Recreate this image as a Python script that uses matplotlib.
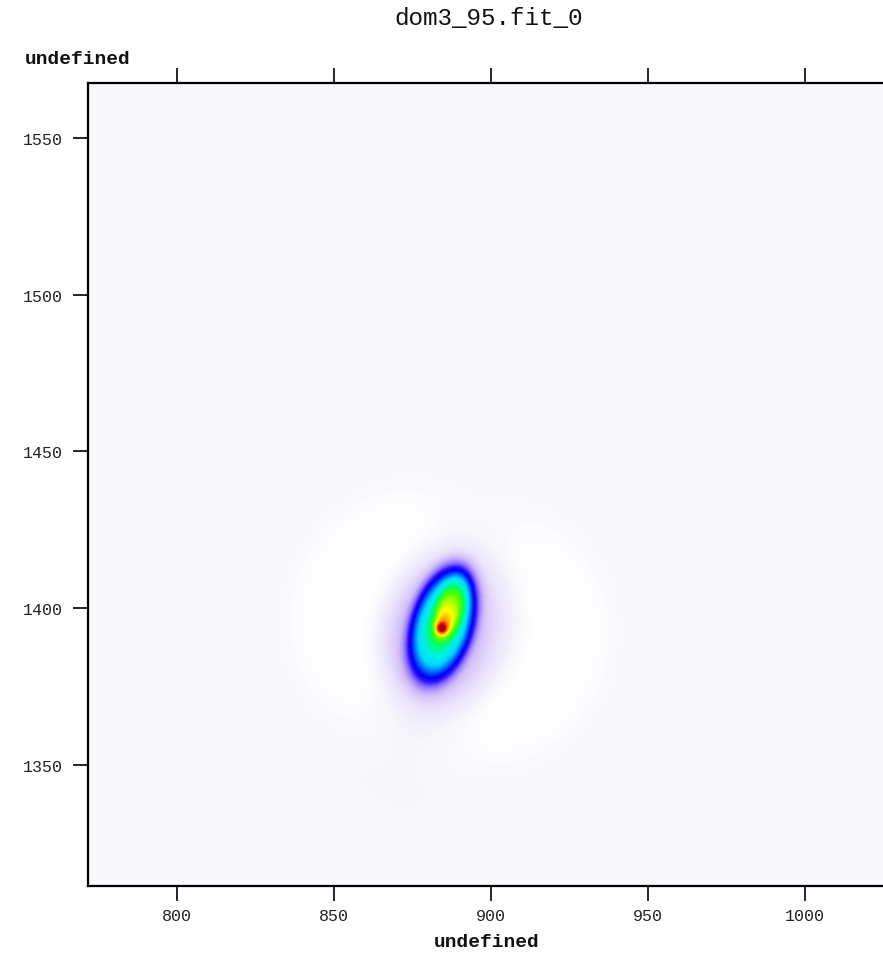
import numpy as np
import matplotlib
matplotlib.use("Agg")
import matplotlib.pyplot as plt
from matplotlib.colors import LinearSegmentedColormap

# ---------------- data ----------------
title = "dom3_95.fit_0"
x_label = "undefined"
y_label = "undefined"
x_ticks = [800, 850, 900, 950, 1000]
y_ticks = [1350, 1400, 1450, 1500, 1550]
x_range = (771.7, 1027.1)
y_range = (1311.4, 1567.5)

# fitted model components: (x0, y0, amplitude, semi-major, semi-minor, angle_deg, exponent)
core_peak = (884.3, 1393.6, 0.28, 1.6, 1.6, 0.0, 1.0)
mid_peak = (884.3, 1393.8, 0.14, 5.0, 3.0, 74.0, 1.0)
inner_lobe = (887.3, 1400.5, 0.20, 10.0, 5.0, 74.0, 2.0)
plateau = (884.6, 1395.0, 0.42, 17.5, 9.0, 74.0, 2.0)
halo = (883.5, 1391.5, 0.10, 26.0, 18.0, 74.0, 1.0)
# negative ring: (x0, y0, amplitude, radius, inner width, outer width, modulation axis deg)
ring = (887.0, 1394.0, -0.075, 33.0, 9.0, 13.0, -16.0)

# colour scale (value, colour)
cmap_values = [-0.04, -0.015, 0.0, 0.03, 0.07, 0.12, 0.17, 0.22, 0.30, 0.38,
               0.46, 0.56, 0.64, 0.74, 0.84, 0.92, 1.0]
cmap_colors = ["#ffffff", "#fcfcff", "#f7f7fc", "#ebe4fb", "#cdb8f8", "#8a6cff",
               "#2a10ff", "#0000f0", "#0070ff", "#00d8ff", "#00f0e8", "#00ff60",
               "#50ff00", "#ffff00", "#ff8000", "#ff0000", "#a00000"]

# ---------------- model field ----------------
xs = np.arange(np.floor(x_range[0]), np.ceil(x_range[1]) + 1)
ys = np.arange(np.floor(y_range[0]), np.ceil(y_range[1]) + 1)
X, Y = np.meshgrid(xs, ys)


def comp(p):
    x0, y0, amp, a, b, ang, ex = p
    t = np.deg2rad(ang)
    u = (X - x0) * np.cos(t) + (Y - y0) * np.sin(t)
    v = -(X - x0) * np.sin(t) + (Y - y0) * np.cos(t)
    q = (u / a) ** 2 + (v / b) ** 2
    return amp * np.exp(-q ** ex)


def ring_comp(p):
    x0, y0, amp, R, w_in, w_out, phi = p
    dx, dy = X - x0, Y - y0
    rho = np.hypot(dx, dy)
    th = np.arctan2(dy, dx)
    w = np.where(rho < R, w_in, w_out)
    mod = 0.2 + 0.8 * np.cos(th - np.deg2rad(phi)) ** 2
    return amp * np.exp(-((rho - R) / w) ** 2) * mod


Z = (comp(core_peak) + comp(mid_peak) + comp(inner_lobe) + comp(plateau)
     + comp(halo) + ring_comp(ring))

vmin, vmax = cmap_values[0], cmap_values[-1]
nodes = [((v - vmin) / (vmax - vmin), c) for v, c in zip(cmap_values, cmap_colors)]
cmap = LinearSegmentedColormap.from_list("fitmap", nodes)

# ---------------- figure ----------------
W, H = 883, 954
fig = plt.figure(figsize=(W / 100, H / 100), dpi=100)
ax = fig.add_axes([88 / W, (H - 887) / H, (890 - 88) / W, (887 - 84) / H])

ax.imshow(Z, origin="lower", cmap=cmap, vmin=vmin, vmax=vmax,
          extent=(xs[0] - 0.5, xs[-1] + 0.5, ys[0] - 0.5, ys[-1] + 0.5),
          interpolation="bilinear", aspect="auto")
ax.set_xlim(*x_range)
ax.set_ylim(*y_range)

mono = ["Liberation Mono", "DejaVu Sans Mono"]
ax.set_xticks(x_ticks)
ax.set_yticks(y_ticks)
ax.set_xticklabels([str(v) for v in x_ticks], family=mono, fontsize=12)
ax.set_yticklabels([str(v) for v in y_ticks], family=mono, fontsize=12)
ax.tick_params(axis="both", direction="out", length=11, width=1.2, color="black",
               top=True, right=True, labelcolor="#222222")
ax.tick_params(axis="x", pad=5)
ax.tick_params(axis="y", pad=7)
for s in ["left", "top", "bottom", "right"]:
    ax.spines[s].set_linewidth(1.6)
    ax.spines[s].set_color("black")

fig.text(489 / W, 1 - 19 / H, title, family=mono, fontsize=17.5, ha="center", va="center",
         color="#111111")
fig.text(25 / W, 1 - 59 / H, y_label, family=mono, fontsize=14, fontweight="bold",
         ha="left", va="center", color="#111111")
fig.text(487 / W, 1 - 943 / H, x_label, family=mono, fontsize=14, fontweight="bold",
         ha="center", va="center", color="#111111")

fig.savefig("out.png", dpi=100, facecolor="white")
